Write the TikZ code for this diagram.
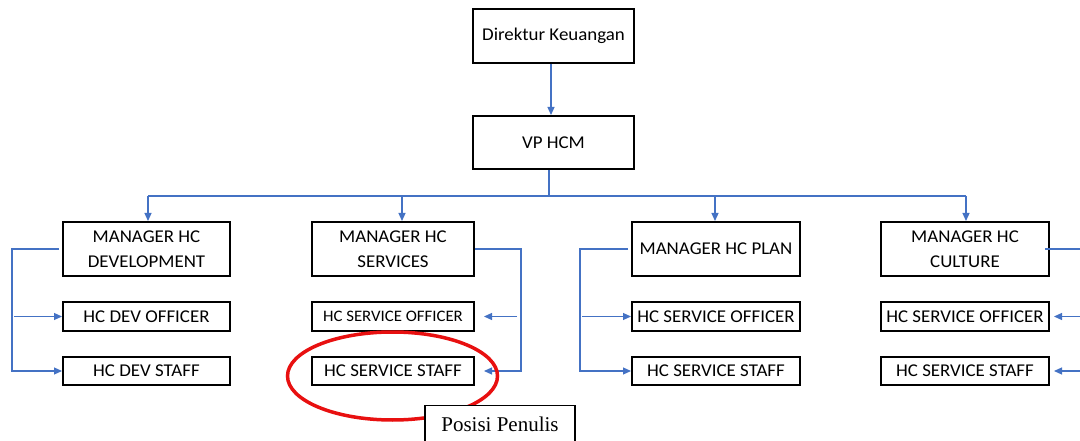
\documentclass[tikz,border=0pt]{standalone}
\usepackage{fontspec}
\setmainfont{Carlito}[FakeStretch=1.05]
\newfontfamily\serifpos{Liberation Serif}
\usetikzlibrary{arrows.meta}
\definecolor{lineblue}{RGB}{68,114,196}
\definecolor{markred}{RGB}{232,16,16}
\begin{document}
\begin{tikzpicture}[x=1pt,y=-1pt,
  box/.style={draw=black, line width=2pt, fill=white, align=center, inner sep=0pt,
    font=\fontsize{18}{25}\selectfont, text=black},
  bigbox/.style={box, minimum height=54pt},
  smallbox/.style={box, minimum height=28.5pt},
  link/.style={draw=lineblue, line width=1.2pt},
  arr/.style={link, -{Triangle[length=8pt,width=7pt]}},
]
\useasboundingbox (0,0) rectangle (1080,441);
\clip (0,0) rectangle (1080,441);
\fill[white] (0,0) rectangle (1080,441);

% top
\node[bigbox, minimum width=161pt] (dk) at (553.5,36) {Direktur Keuangan};
\node[bigbox, minimum width=161pt, minimum height=53pt] (vp) at (553.5,142.5) {VP HCM};

% managers
\node[bigbox, minimum width=167pt] (mdev)  at (146.5,249) {MANAGER HC\\DEVELOPMENT};
\node[bigbox, minimum width=162pt] (mserv) at (393,249) {MANAGER HC\\SERVICES};
\node[bigbox, minimum width=168pt] (mplan) at (716,249) {MANAGER HC PLAN};
\node[bigbox, minimum width=168pt] (mcult) at (965,249) {MANAGER HC\\CULTURE};

% officers / staff
\node[smallbox, minimum width=167pt] (doff) at (146.5,316.5) {HC DEV OFFICER};
\node[smallbox, minimum width=167pt] (dsta) at (146.5,371) {HC DEV STAFF};
\node[smallbox, minimum width=162pt, font=\fontsize{16}{20}\selectfont] (soff) at (393,316.5) {HC SERVICE OFFICER};
\node[smallbox, minimum width=162pt] (ssta) at (393,371) {HC SERVICE STAFF};
\node[smallbox, minimum width=168pt] (poff) at (716,316.5) {HC SERVICE OFFICER};
\node[smallbox, minimum width=168pt] (psta) at (716,371) {HC SERVICE STAFF};
\node[smallbox, minimum width=168pt] (coff) at (965,316.5) {HC SERVICE OFFICER};
\node[smallbox, minimum width=168pt] (csta) at (965,371) {HC SERVICE STAFF};

% top connectors
\draw[arr] ([xshift=-2.5pt]dk.south) -- ([xshift=-2.5pt]vp.north);
\coordinate (busM) at (549,196);
\coordinate (busL) at (148,196);
\coordinate (busR) at (966,196);
\coordinate (bserv) at (402,196);
\coordinate (bplan) at (715,196);
\draw[link] (vp.south -| busM) -- (busM);
\draw[link] (busL) -- (busR);
\draw[arr] (busL) -- (busL |- mdev.north);
\draw[arr] (bserv) -- (bserv |- mserv.north);
\draw[arr] (bplan) -- (bplan |- mplan.north);
\draw[arr] (busR) -- (busR |- mcult.north);

% development bracket
\coordinate (dvx) at (12,0);
\draw[arr] ([xshift=-3pt]mdev.west) -| (dvx |- dsta.west) -- (dsta.west);
\draw[arr] ([xshift=2pt]dvx |- doff.west) -- (doff.west);

% services bracket
\coordinate (svx) at (521,0);
\draw[arr, shorten >=9pt] (mserv.east) -| (svx |- ssta.east) -- (ssta.east);
\draw[arr, shorten >=9pt] ([xshift=-4pt]svx |- soff.east) -- (soff.east);

% plan bracket
\coordinate (pvx) at (580,0);
\draw[arr] ([xshift=-3pt]mplan.west) -| (pvx |- psta.west) -- (psta.west);
\draw[arr] ([xshift=2pt]pvx |- poff.west) -- (poff.west);

% culture bracket
\coordinate (cvx) at (1086,0);
\draw[link] ([xshift=-5pt]mcult.east) -| (cvx |- csta.east);
\draw[arr, shorten >=4pt] (cvx |- coff.east) -- (coff.east);
\draw[arr, shorten >=4pt] (cvx |- csta.east) -- (csta.east);

% highlight
\draw[markred, line width=3.5pt] (392.5,376) ellipse [x radius=105, y radius=44];
\node[draw=black, line width=1.2pt, fill=white, minimum width=150pt, minimum height=38pt,
  anchor=north, inner sep=0pt, font=\serifpos\fontsize{21}{24}\selectfont] (pos) at (500,405) {Posisi Penulis};
\end{tikzpicture}
\end{document}
